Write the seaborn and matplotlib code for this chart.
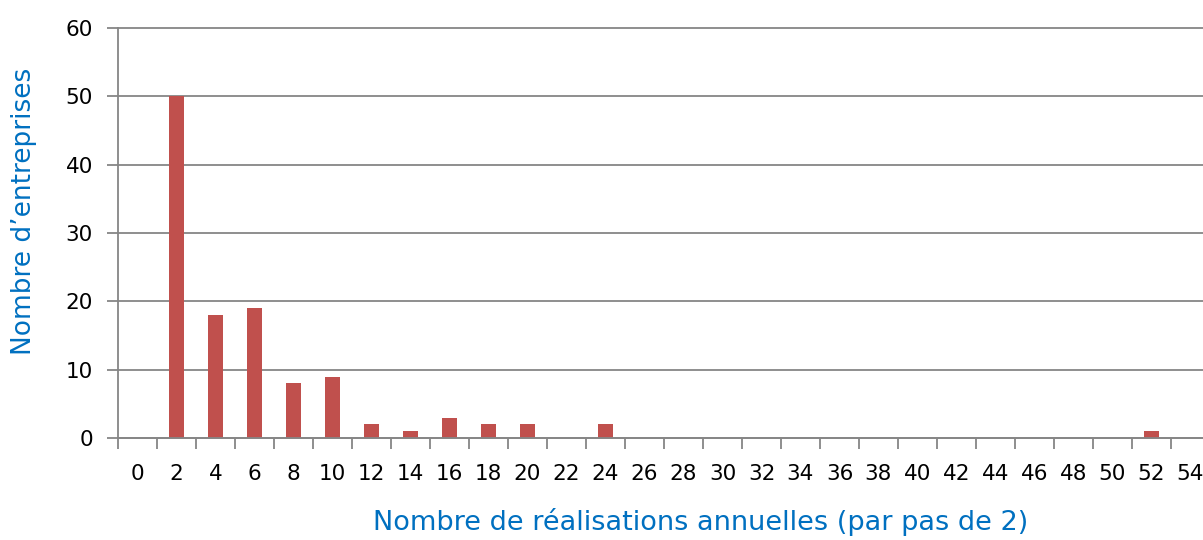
import matplotlib
matplotlib.use("Agg")
import matplotlib.pyplot as plt
import seaborn as sns
import pandas as pd
import numpy as np

# nombre de realisations annuelles (classes par pas de 2)
classes = [str(v) for v in range(0, 56, 2)]
nb_entreprises = [0, 50, 18, 19, 8, 9, 2, 1, 3, 2, 2, 0, 2, 0,
                  0, 0, 0, 0, 0, 0, 0, 0, 0, 0, 0, 0, 1, 0]

df = pd.DataFrame({'classe': classes, 'nb': nb_entreprises})

sns.set_style('white')
plt.rcParams['font.family'] = ['DejaVu Sans']

bleu = '#0070C0'
gris = '#868686'

fig = plt.figure(figsize=(12.03, 5.40), dpi=100)
ax = fig.add_axes([118 / 1203, 102 / 540, 1092 / 1203, 410 / 540])

sns.barplot(data=df, x='classe', y='nb', order=classes, color='#C0504D',
            saturation=1, width=0.4, linewidth=0, ax=ax)

ax.set_xlim(-0.5, len(classes) - 0.5)
ax.set_ylim(0, 60)
ax.set_yticks(range(0, 61, 10))
ax.yaxis.grid(True, color=gris, linewidth=1.3)
ax.set_axisbelow(True)
for gl in ax.yaxis.get_gridlines():
    gl.set_clip_on(False)

# etiquettes au centre, graduations entre les classes
ax.set_xticks(np.arange(len(classes)))
ax.set_xticklabels(classes)
ax.set_xticks(np.arange(len(classes) + 1) - 0.5, minor=True)
ax.tick_params(axis='x', which='major', length=0, pad=18.5, labelsize=15.5,
               labelcolor='black')
ax.tick_params(axis='x', which='minor', length=8, width=1.3, color=gris,
               direction='out', bottom=True)
ax.tick_params(axis='y', which='major', length=8, width=1.3, color=gris,
               direction='out', pad=10, labelsize=15.5, left=True,
               labelcolor='black')

for s in ['top', 'right']:
    ax.spines[s].set_visible(False)
for s in ['left', 'bottom']:
    ax.spines[s].set_color(gris)
    ax.spines[s].set_linewidth(1.3)

ax.set_xlabel('Nombre de réalisations annuelles (par pas de 2)', color=bleu,
              fontsize=19.5, va='center')
ax.xaxis.set_label_coords((701 - 118) / 1092, (438 - 522) / 410)
ax.set_ylabel('Nombre d’entreprises', color=bleu, fontsize=19, va='center')
ax.yaxis.set_label_coords((24 - 118) / 1092, (438 - 211) / 410)

fig.savefig('out.png', dpi=100)
